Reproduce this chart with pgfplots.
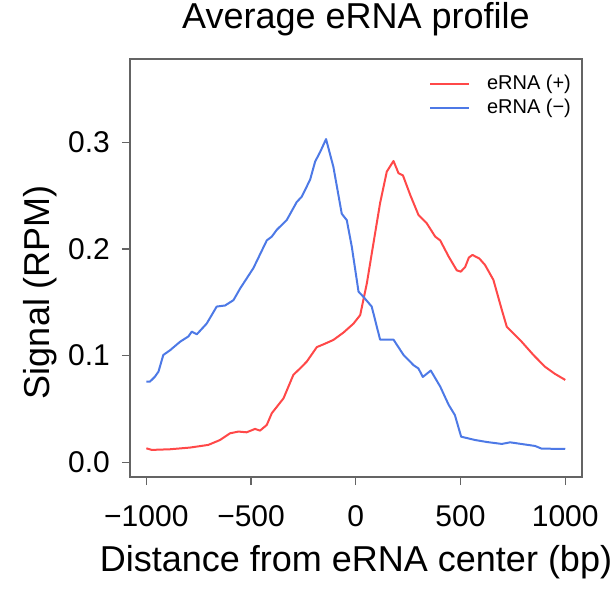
\documentclass[border=0pt]{standalone}
\usepackage{pgfplots}
\pgfplotsset{compat=1.18}
\usepackage{fontspec}
\setmainfont{Liberation Sans}
\definecolor{cred}{RGB}{255,72,72}
\definecolor{cblue}{RGB}{77,121,230}
\definecolor{boxgray}{RGB}{100,100,100}

\pgfplotstableread{
x y
-1000 0.0131
-974 0.0116
-887 0.0122
-791 0.0138
-704 0.0163
-648 0.0209
-600 0.0272
-560 0.0288
-521 0.0281
-481 0.0313
-457 0.0297
-425 0.035
-401 0.046
-345 0.060
-298 0.082
-266 0.088
-234 0.0944
-186 0.108
-154 0.1106
-107 0.1147
-59 0.1216
-11 0.130
21 0.138
53 0.168
84 0.205
116 0.243
148 0.2725
180 0.2825
204 0.271
225 0.269
260 0.2506
299 0.232
339 0.224
379 0.2116
403 0.208
443 0.193
482 0.180
501 0.1787
522 0.183
540 0.192
557 0.1944
590 0.191
617 0.185
657 0.171
697 0.143
721 0.127
792 0.113
848 0.1006
903 0.0896
950 0.083
1000 0.0772
}\plus

\pgfplotstableread{
x y
-1000 0.0756
-983 0.0756
-960 0.080
-942 0.085
-919 0.1006
-887 0.105
-839 0.113
-799 0.118
-783 0.1225
-759 0.120
-712 0.130
-664 0.146
-624 0.147
-584 0.152
-552 0.163
-489 0.182
-425 0.208
-401 0.2116
-377 0.218
-330 0.227
-282 0.244
-258 0.249
-218 0.265
-194 0.282
-170 0.291
-142 0.303
-107 0.277
-67 0.233
-43 0.227
-19 0.202
13 0.160
37 0.155
76 0.146
116 0.115
180 0.115
228 0.1006
276 0.091
299 0.088
320 0.080
358 0.086
403 0.071
443 0.054
473 0.0443
503 0.024
569 0.0209
626 0.019
697 0.0172
737 0.0187
856 0.0153
887 0.0128
1000 0.0125
}\minus

\begin{document}
\begin{tikzpicture}
\path[use as bounding box] (-130pt,-114pt) rectangle (485pt,477pt);
\begin{axis}[
  scale only axis, width=452pt, height=418pt,
  xmin=-1078, xmax=1080, ymin=-0.0138, ymax=0.3781,
  axis line style={boxgray, line width=1.2pt},
  every tick/.style={boxgray, line width=1.2pt},
  tick align=outside, major tick length=8pt,
  xtick pos=lower, ytick pos=left,
  xtick={-1000,-500,0,500,1000},
  xticklabels={{−1000},{−500},{0},{500},{1000}},
  ytick={0,0.1,0.2,0.3},
  yticklabels={{0.0},{0.1},{0.2},{0.3}},
  ticklabel style={font=\fontsize{30}{36}\selectfont, text=black},
  xticklabel style={anchor=base, inner sep=0pt, yshift=-41pt},
  yticklabel style={anchor=east, inner sep=0pt, xshift=-12pt},
  xlabel={Distance from eRNA center (bp)},
  xlabel style={at={(axis description cs:0.5,-0.2249)}, anchor=base, inner sep=0pt, font=\fontsize{36}{43}\selectfont},
  ylabel={Signal (RPM)},
  ylabel style={at={(axis description cs:-0.178,0.4426)}, rotate=0, anchor=base, inner sep=0pt, font=\fontsize{36}{43}\selectfont},
  title={Average eRNA profile},
  title style={at={(axis description cs:0.5,1.0598)}, anchor=base, inner sep=0pt, font=\fontsize{36}{43}\selectfont},
  legend style={draw=none, fill=none, inner sep=0pt, outer sep=0pt,
    at={(axis description cs:0.6615,0.9641)}, anchor=north west,
    font=\fontsize{20}{24}\selectfont,
    nodes={inner sep=0pt, text height=15pt, text depth=5pt},
    row sep=4pt,
    /tikz/every odd column/.append style={column sep=17pt}},
  legend cell align=left,
  legend image code/.code={\draw[#1] (0pt,0pt) -- (39pt,0pt);},
]
\addplot[cred, line width=2pt, line join=round] table[x=x,y=y] {\plus};
\addlegendentry{eRNA (+)}
\addplot[cblue, line width=2pt, line join=round] table[x=x,y=y] {\minus};
\addlegendentry{eRNA (−)}
\end{axis}
\end{tikzpicture}
\end{document}
